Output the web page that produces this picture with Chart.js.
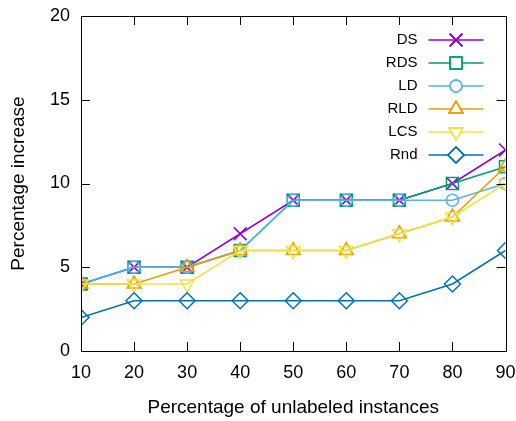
<!DOCTYPE html>
<html>
<head>
<meta charset="utf-8">
<script src="https://cdn.jsdelivr.net/npm/chart.js@4/dist/chart.umd.min.js"></script>
<style>
  html, body { margin: 0; padding: 0; background: #fff; }
  #wrap { width: 516px; height: 421px; }
</style>
</head>
<body>
<div id="wrap"><canvas id="chart" width="516" height="421"></canvas></div>
<script>
// DATA
const xValues = [10, 20, 30, 40, 50, 60, 70, 80, 90];
const dsValues  = [4, 5, 5, 7, 9, 9, 9, 10, 12];
const rdsValues = [4, 5, 5, 6, 9, 9, 9, 10, 11];
const ldValues  = [4, 5, 5, 6, 9, 9, 9, 9, 10];
const rldValues = [4, 4, 5, 6, 6, 6, 7, 8, 11];
const lcsValues = [4, 4, 4, 6, 6, 6, 7, 8, 10];
const rndValues = [2, 3, 3, 3, 3, 3, 3, 4, 6];
const xTicks = [10, 20, 30, 40, 50, 60, 70, 80, 90];
const yTicks = [0, 5, 10, 15, 20];

const FONT = 'Liberation Sans, Arial, Helvetica, sans-serif';

function toPoints(vals) {
  return vals.map((v, i) => ({ x: xValues[i], y: v }));
}

function series(label, vals, color, style, radius, rotation, order) {
  return {
    label: label,
    data: toPoints(vals),
    borderColor: color,
    backgroundColor: color,
    borderWidth: 1.5,
    pointStyle: style,
    pointRadius: radius,
    pointHoverRadius: radius,
    pointRotation: rotation,
    pointBorderWidth: 1.5,
    pointBorderColor: color,
    pointBackgroundColor: 'rgba(0,0,0,0)',
    tension: 0,
    fill: false,
    order: order
  };
}

// gnuplot-like frame, inward ticks and legend inside top right
const framePlugin = {
  id: 'frame',
  afterDatasetsDraw(chart) {
    const ctx = chart.ctx;
    const a = chart.chartArea;
    const xs = chart.scales.x, ys = chart.scales.y;
    const tl = 9;
    ctx.save();
    ctx.strokeStyle = '#000';
    ctx.lineWidth = 1;
    ctx.beginPath();
    xTicks.forEach(t => {
      const px = Math.round(xs.getPixelForValue(t)) + 0.5;
      ctx.moveTo(px, a.bottom); ctx.lineTo(px, a.bottom - tl);
      ctx.moveTo(px, a.top); ctx.lineTo(px, a.top + tl);
    });
    yTicks.forEach(t => {
      const py = Math.round(ys.getPixelForValue(t)) + 0.5;
      ctx.moveTo(a.left, py); ctx.lineTo(a.left + tl, py);
      ctx.moveTo(a.right, py); ctx.lineTo(a.right - tl, py);
    });
    ctx.stroke();
    ctx.strokeRect(Math.round(a.left) + 0.5, Math.round(a.top) + 0.5,
      Math.round(a.right - a.left), Math.round(a.bottom - a.top));

    // legend
    const textRight = a.right - 88;
    const lineStart = a.right - 77;
    const lineEnd = a.right - 22;
    let y = a.top + 24;
    ctx.font = '15px ' + FONT;
    ctx.textAlign = 'right';
    ctx.textBaseline = 'middle';
    chart.data.datasets.forEach(ds => {
      ctx.fillStyle = '#000';
      ctx.fillText(ds.label, textRight, y);
      ctx.strokeStyle = ds.borderColor;
      ctx.lineWidth = 1.5;
      ctx.beginPath();
      ctx.moveTo(lineStart, y); ctx.lineTo(lineEnd, y);
      ctx.stroke();
      const cx = (lineStart + lineEnd) / 2;
      ctx.fillStyle = '#fff';
      Chart.helpers.drawPoint(ctx, {
        pointStyle: ds.pointStyle,
        radius: ds.pointRadius,
        rotation: ds.pointRotation,
        borderWidth: 1.5
      }, cx, y);
      ctx.stroke();
      y += 23;
    });
    ctx.restore();
  }
};

new Chart(document.getElementById('chart'), {
  type: 'line',
  data: {
    datasets: [
      series('DS',  dsValues,  '#9400d3', 'crossRot', 9, 0, 6),
      series('RDS', rdsValues, '#009e73', 'rect', 8.5, 0, 5),
      series('LD',  ldValues,  '#56b4e9', 'circle', 6, 0, 4),
      series('RLD', rldValues, '#e69f00', 'triangle', 8, 0, 3),
      series('LCS', lcsValues, '#f0e442', 'triangle', 8, 180, 2),
      series('Rnd', rndValues, '#0072b2', 'rectRot', 8, 0, 1)
    ]
  },
  options: {
    responsive: false,
    animation: false,
    layout: { padding: { left: 0, right: 10, top: 16, bottom: 0 } },
    plugins: { legend: { display: false }, tooltip: { enabled: false } },
    scales: {
      x: {
        type: 'linear',
        min: 10, max: 90,
        afterFit(scale) {
          scale.height = 70;
          scale.paddingLeft = 0;
          scale.paddingRight = 0;
        },
        afterBuildTicks(scale) { scale.ticks = xTicks.map(v => ({ value: v })); },
        grid: { display: false, drawTicks: false },
        border: { display: false },
        ticks: { color: '#000', padding: 11, font: { family: FONT, size: 18 } },
        title: {
          display: true, text: 'Percentage of unlabeled instances', color: '#000',
          font: { family: FONT, size: 19 }, padding: { top: 0, bottom: 2 }
        }
      },
      y: {
        min: 0, max: 20,
        afterFit(scale) {
          scale.width = 81;
          scale.paddingTop = 0;
          scale.paddingBottom = 0;
        },
        afterBuildTicks(scale) { scale.ticks = yTicks.map(v => ({ value: v })); },
        grid: { display: false, drawTicks: false },
        border: { display: false },
        ticks: { color: '#000', padding: 11, font: { family: FONT, size: 18 } },
        title: {
          display: true, text: 'Percentage increase', color: '#000',
          font: { family: FONT, size: 19 }, padding: { top: 7, bottom: 0 }
        }
      }
    }
  },
  plugins: [framePlugin]
});
</script>
</body>
</html>
